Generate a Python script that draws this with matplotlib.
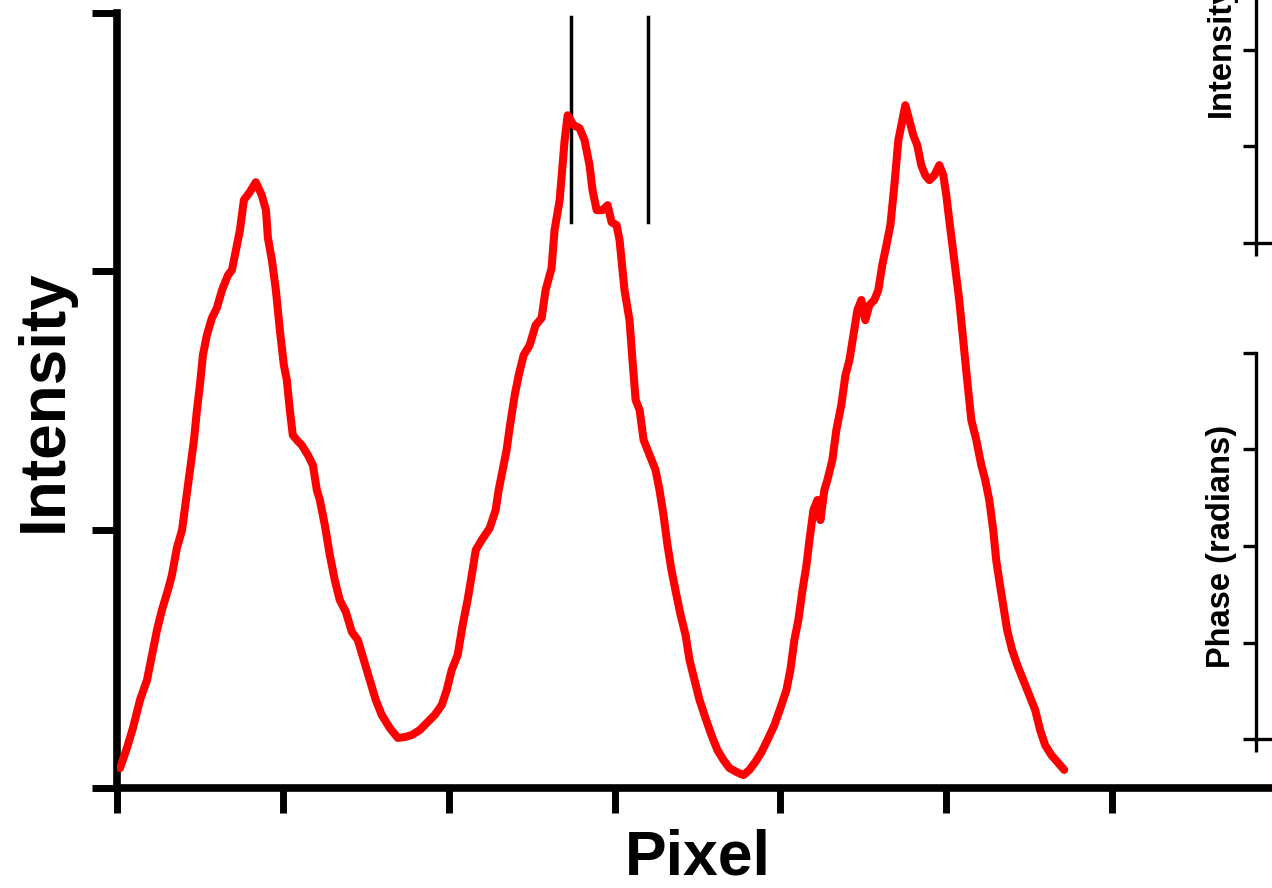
import matplotlib
matplotlib.use("Agg")
from matplotlib import pyplot as plt

plt.rcParams["font.family"] = ["Liberation Sans", "DejaVu Sans"]
plt.rcParams["font.weight"] = "bold"

# line profile (pixel index vs intensity)
pixel = [1.8, 6.0, 9.6, 13.9, 18.1, 21.1, 24.1, 27.1, 30.7, 33.1, 36.1, 39.2, 41.6,
         44.0, 46.4, 48.2, 50.0, 51.8, 54.2, 57.2, 60.2, 63.3, 66.9, 69.3, 71.7,
         74.1, 76.5, 80.1, 83.7, 87.3, 89.8, 91.0, 93.4, 95.8, 98.2, 100.6, 102.4,
         104.2, 106.0, 108.4, 111.4, 115.1, 118.1, 120.5, 122.3, 125.3, 128.3,
         131.3, 134.3, 138.0, 141.6, 145.2, 148.8, 152.4, 156.0, 159.6, 164.5,
         169.3, 173.5, 177.7, 182.5, 187.3, 191.6, 195.8, 198.8, 201.8, 205.4,
         208.4, 211.4, 213.9, 216.3, 219.9, 224.7, 228.3, 230.1, 231.9, 234.9,
         236.7, 239.8, 242.2, 245.2, 248.8, 252.4, 256.0, 258.4, 262.0, 263.8,
         266.9, 269.9, 271.7, 275.3, 278.9, 281.9, 284.9, 286.7, 289.2, 292.8,
         295.8, 298.2, 301.2, 303.0, 306.0, 309.0, 310.8, 312.7, 315.1, 317.5,
         321.1, 324.7, 327.1, 329.5, 331.9, 334.3, 336.7, 339.8, 342.8, 345.2,
         348.2, 351.2, 354.8, 358.4, 362.0, 365.7, 369.3, 373.5, 377.7, 381.3,
         384.9, 388.6, 392.2, 396.4, 400.6, 403.6, 406.0, 408.4, 410.8, 413.3,
         415.7, 417.5, 419.9, 422.3, 424.1, 426.5, 428.3, 431.3, 433.7, 436.7,
         439.2, 441.6, 444.0, 446.4, 448.8, 451.2, 453.6, 456.6, 459.0, 461.4,
         463.9, 466.3, 468.7, 471.1, 472.9, 475.3, 477.7, 480.1, 482.5, 484.9,
         487.3, 489.8, 492.8, 495.8, 498.2, 500.0, 501.8, 504.8, 507.8, 510.2,
         512.6, 515.1, 518.1, 521.1, 523.5, 525.9, 528.3, 530.1, 531.9, 534.3,
         536.7, 539.7, 542.8, 546.4, 550.0, 553.6, 556.6, 559.6, 563.3, 566.9,
         571.1]
intensity = [77, 155, 232, 341, 418, 515, 611, 689, 766, 824, 929, 998, 1115,
             1231, 1347, 1463, 1560, 1676, 1753, 1819, 1858, 1927, 1985, 2005, 2082,
             2159, 2276, 2307, 2345, 2295, 2237, 2129, 2043, 1927, 1772, 1637, 1579,
             1463, 1366, 1347, 1327, 1289, 1250, 1153, 1115, 1018, 902,
             805, 728, 681, 604, 573, 495, 418, 341, 283, 232,
             194, 197, 205, 224, 255, 283, 321, 379, 457, 515,
             631, 728, 824, 921, 960, 1006, 1076, 1153, 1211, 1308,
             1393, 1521, 1598, 1676, 1714, 1792, 1819, 1927, 2012, 2159,
             2276, 2508, 2604, 2566, 2554, 2508, 2411, 2314, 2237, 2237,
             2256, 2190, 2179, 2121, 1927, 1811, 1656, 1502, 1463, 1347,
             1289, 1231, 1153, 1057, 940, 844, 766, 670, 592, 495,
             418, 341, 271, 205, 147, 108, 77, 62, 50, 70,
             101, 139, 186, 244, 321, 379, 457, 573, 650, 766,
             863, 960, 1076, 1115, 1037, 1153, 1192, 1269, 1385, 1482,
             1598, 1656, 1753, 1850, 1889, 1811, 1869, 1889, 1927, 2024,
             2101, 2179, 2334, 2508, 2566, 2643, 2585, 2527, 2488, 2411,
             2372, 2353, 2372, 2411, 2372, 2295, 2198, 2043, 1889, 1734,
             1579, 1424, 1347, 1250, 1192, 1115, 998, 882, 805, 708,
             611, 534, 476, 418, 360, 302, 224, 166, 128, 101,
             70]

# selected window
window_x = [273.5, 320.0]
window_y = [2190, 2985]

x_ticks = [0, 100, 200, 300, 400, 500, 600]
y_ticks = [0, 1000, 2000, 3000]

fig = plt.figure(figsize=(12.72, 8.88), dpi=100)

ax = fig.add_axes([117 / 1272, 100 / 888, 1161 / 1272, 775 / 888])
ax.plot(pixel, intensity, color="#ff0000", lw=5.8, solid_capstyle="round",
        solid_joinstyle="round", zorder=3)
for wx in window_x:
    ax.plot([wx, wx], window_y, color="black", lw=2.5)
ax.set_xlim(0, 700)
ax.set_ylim(0, 3000)
ax.set_xticks(x_ticks)
ax.set_yticks(y_ticks)
ax.set_xticklabels([])
ax.set_yticklabels([])
ax.tick_params(direction="out", length=18, width=5)
for side in ["top", "right"]:
    ax.spines[side].set_visible(False)
for side in ["left", "bottom"]:
    ax.spines[side].set_linewidth(5.5)
ax.set_xlabel("Pixel", fontsize=45, fontweight="bold", labelpad=8)
ax.set_ylabel("Intensity", fontsize=46, fontweight="bold", labelpad=9)

# right-hand insets (mostly outside the figure)
ins_h = 386 / 888
top_in = fig.add_axes([1256 / 1272, (888 - 243) / 888, 0.2, ins_h])
bot_in = fig.add_axes([1256 / 1272, (888 - 739) / 888, 0.2, ins_h])
for a, lab in [(top_in, "Intensity"), (bot_in, "Phase (radians)")]:
    a.set_xlim(0, 100)
    a.set_ylim(0, 4)
    a.set_xticks([0, 100])
    a.set_yticks([0, 1, 2, 3, 4])
    a.set_xticklabels([])
    a.set_yticklabels([])
    a.tick_params(direction="out", length=9.5, width=2.4)
    a.spines["top"].set_visible(False)
    a.spines["right"].set_visible(False)
    a.spines["left"].set_linewidth(2.4)
    a.spines["bottom"].set_linewidth(2.4)
    a.set_ylabel(lab, fontsize=23.5, fontweight="bold", labelpad=1)

fig.savefig("out.png", dpi=100)
